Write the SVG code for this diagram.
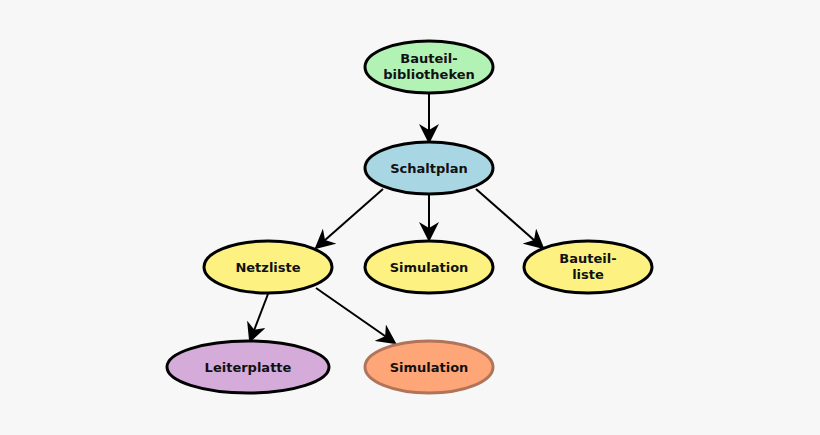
<svg xmlns="http://www.w3.org/2000/svg" width="820" height="435" viewBox="0 0 820 435">
<style>
.n{stroke:#000;stroke-width:3}
.t{font-family:"DejaVu Sans",sans-serif;font-weight:bold;font-size:13px;text-anchor:middle;fill:#111}
.c line{stroke:#000;stroke-width:2;marker-end:url(#a)}
</style>
<defs><marker id="a" viewBox="0 0 10 10" refX="9" refY="5" markerWidth="7" markerHeight="7" markerUnits="userSpaceOnUse" orient="auto"><path d="M0,0 L10,5 L0,10 L3,5 z" fill="#000"/></marker></defs>
<defs><marker id="b" viewBox="0 0 10 10" refX="9" refY="5" markerWidth="10" markerHeight="10" orient="auto"><path d="M0,0 L10,5 L0,10 L3,5 z" fill="#000"/></marker></defs>
<rect width="820" height="435" fill="#f7f7f7"/>
<g class="c" id="connectors">
<line x1="429" y1="93" x2="429" y2="142" style="marker-end:url(#b)"/>
<line x1="383" y1="189" x2="316" y2="248" style="marker-end:url(#b)"/>
<line x1="429" y1="194" x2="429" y2="240" style="marker-end:url(#b)"/>
<line x1="476" y1="189" x2="543" y2="248" style="marker-end:url(#b)"/>
<line x1="268" y1="294" x2="250" y2="341" style="marker-end:url(#b)"/>
<line x1="316" y1="288" x2="395" y2="343" style="marker-end:url(#b)"/>
</g>
<g id="bib"><ellipse class="n" cx="429" cy="67" rx="64" ry="26" fill="#b3f2b5"/><text class="t" x="429" y="63">Bauteil-</text><text class="t" x="429" y="79">bibliotheken</text></g>
<g id="schaltplan"><ellipse class="n" cx="429" cy="168" rx="64" ry="26" fill="#a8d6e3"/><text class="t" x="429" y="173">Schaltplan</text></g>
<g id="netzliste"><ellipse class="n" cx="268" cy="267" rx="64" ry="26" fill="#fdf281"/><text class="t" x="268" y="272">Netzliste</text></g>
<g id="sim1"><ellipse class="n" cx="429" cy="267" rx="64" ry="26" fill="#fdf281"/><text class="t" x="429" y="272">Simulation</text></g>
<g id="bauteilliste"><ellipse class="n" cx="588" cy="267" rx="64" ry="26" fill="#fdf281"/><text class="t" x="588" y="263">Bauteil-</text><text class="t" x="588" y="279">liste</text></g>
<g id="leiterplatte"><ellipse class="n" cx="248" cy="367" rx="81" ry="26" fill="#d5abd9"/><text class="t" x="248" y="372">Leiterplatte</text></g>
<g id="sim2"><ellipse cx="429" cy="367" rx="64" ry="26" fill="#fea677" stroke="#b0745a" stroke-width="3"/><text class="t" x="429" y="372">Simulation</text></g>
</svg>
